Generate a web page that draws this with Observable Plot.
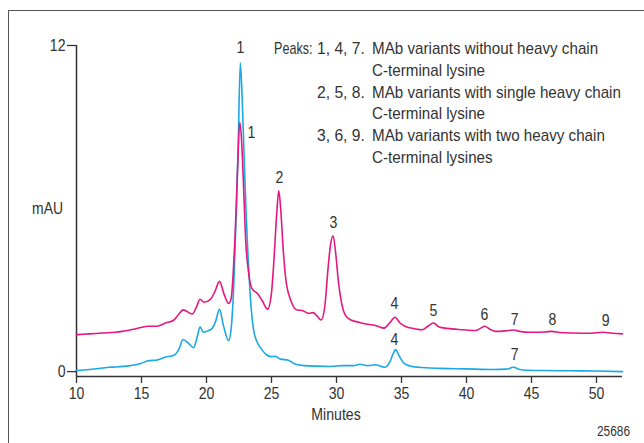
<!DOCTYPE html>
<html>
<head>
<meta charset="utf-8">
<script src="https://cdn.jsdelivr.net/npm/d3@7"></script>
<script src="https://cdn.jsdelivr.net/npm/@observablehq/plot@0.6"></script>
<style>
  html, body { margin: 0; padding: 0; background: #fff; }
  #wrap { position: relative; width: 644px; height: 443px; overflow: hidden;
          font-family: "Liberation Sans", Arial, sans-serif; color: #333; }
  #wrap svg { position: absolute; left: 0; top: 0; }
  .ov { position: absolute; white-space: nowrap; font-size: 17px; line-height: 20px; }
  #frameTop { position: absolute; left: 8px; top: 10px; width: 640px; height: 0; border-top: 1.4px solid #555; }
  #frameLeft { position: absolute; left: 7.5px; top: 10px; width: 0; height: 440px; border-left: 1.4px solid #555; }
</style>
</head>
<body>
<div id="wrap">
  <div id="frameTop"></div>
  <div id="frameLeft"></div>
</div>
<script>
// ---- data ----
const blueT = [10, 11, 12, 12.5, 13, 14, 15, 15.5, 16.2, 16.8, 17.5, 17.9, 18.2, 18.6, 19.0, 19.3, 19.5, 19.75, 20.0, 20.4, 20.7, 21.0, 21.3, 21.7, 21.9, 22.1, 22.3, 22.45, 22.6, 22.75, 22.9, 23.05, 23.2, 23.35, 23.6, 23.9, 24.2, 24.6, 25.0, 25.3, 25.7, 26.3, 26.8, 27.5, 28.5, 29.5, 30.5, 31.3, 31.8, 32.4, 33.0, 33.7, 34.1, 34.35, 34.55, 34.8, 35.2, 35.7, 36.3, 38, 40, 42, 43.1, 43.6, 44.1, 44.6, 46, 48, 50, 52];
const blueV = [0.04, 0.08, 0.13, 0.16, 0.17, 0.21, 0.31, 0.40, 0.43, 0.53, 0.60, 0.85, 1.18, 1.05, 0.88, 1.30, 1.65, 1.45, 1.48, 1.57, 1.85, 2.29, 1.70, 1.14, 1.60, 3.2, 6.0, 8.6, 11.36, 10.0, 7.8, 5.8, 4.2, 2.9, 1.6, 1.08, 0.85, 0.62, 0.55, 0.56, 0.46, 0.42, 0.28, 0.22, 0.20, 0.19, 0.22, 0.22, 0.27, 0.22, 0.25, 0.16, 0.35, 0.65, 0.81, 0.60, 0.30, 0.20, 0.16, 0.12, 0.10, 0.08, 0.09, 0.16, 0.08, 0.05, 0.04, 0.03, 0.02, 0.00];

const pinkT = [10, 11, 12, 13, 13.5, 14.5, 15.5, 16.2, 16.8, 17.5, 17.85, 18.2, 18.9, 19.25, 19.5, 19.8, 20.3, 20.65, 21.0, 21.35, 21.7, 21.9, 22.05, 22.2, 22.38, 22.56, 22.7, 22.82, 23.02, 23.25, 23.5, 23.95, 24.3, 24.7, 25.0, 25.2, 25.4, 25.56, 25.72, 25.9, 26.1, 26.5, 26.97, 27.36, 27.87, 28.2, 28.5, 28.82, 29.1, 29.35, 29.55, 29.74, 29.95, 30.15, 30.4, 30.7, 31.1, 31.7, 32.4, 33.0, 33.67, 34.1, 34.5, 34.9, 35.3, 36.0, 36.6, 37.0, 37.46, 37.9, 38.5, 39.7, 40.7, 41.1, 41.4, 41.8, 42.25, 43.0, 43.6, 44.2, 44.8, 46.0, 46.56, 47.2, 48.2, 49.4, 50.5, 51.2, 52];
const pinkV = [1.36, 1.39, 1.42, 1.45, 1.48, 1.57, 1.67, 1.67, 1.78, 1.90, 2.10, 2.27, 2.12, 2.40, 2.66, 2.55, 2.66, 2.95, 3.32, 2.85, 2.51, 2.70, 3.59, 5.0, 7.3, 9.17, 8.5, 7.2, 4.8, 3.6, 3.05, 2.86, 2.60, 2.30, 2.9, 4.2, 5.8, 6.65, 5.9, 4.5, 3.4, 2.6, 2.27, 2.25, 2.14, 2.17, 2.05, 1.90, 2.4, 3.8, 4.7, 5.0, 4.3, 3.3, 2.5, 2.06, 1.90, 1.82, 1.74, 1.70, 1.60, 1.80, 2.00, 1.78, 1.66, 1.58, 1.54, 1.66, 1.79, 1.64, 1.59, 1.54, 1.51, 1.60, 1.67, 1.56, 1.48, 1.50, 1.53, 1.47, 1.45, 1.46, 1.48, 1.44, 1.42, 1.41, 1.45, 1.41, 1.39];

const peakLabel  = ["1", "1", "2", "3", "4", "5", "6", "7", "8", "9", "4", "7"];
const peakLabelT = [22.6, 23.46, 25.6, 29.77, 34.46, 37.46, 41.38, 43.7, 46.6, 50.7, 34.46, 43.7];
const peakLabelY = [11.91, 8.79, 7.13, 5.48, 2.5, 2.24, 2.1, 1.91, 1.91, 1.88, 1.18, 0.63];

const xTicks = [10, 15, 20, 25, 30, 35, 40, 45, 50];
const yTicks = [0, 12];
const xDomain = [10, 52];
const yDomain = [-0.18, 12];

const legendKeys  = ["Peaks:", "", "", "", "", ""];
const legendNums  = ["1, 4, 7.", "", "2, 5, 8.", "", "3, 6, 9.", ""];
const legendTexts = ["MAb variants without heavy chain", "C-terminal lysine",
                     "MAb variants with single heavy chain", "C-terminal lysine",
                     "MAb variants with two heavy chain", "C-terminal lysines"];

// ---- build ----
const blue = blueT.map((t, i) => ({t, v: blueV[i]}));
const pink = pinkT.map((t, i) => ({t, v: pinkV[i]}));
const labels = peakLabel.map((s, i) => ({s, t: peakLabelT[i], v: peakLabelY[i]}));

const FONT = '"Liberation Sans", Arial, sans-serif';
const BLUE = "#1aa9e4";
const PINK = "#e4187f";
const INK = "#333";
const SQUEEZE = 0.83;

const chart = Plot.plot({
  width: 644,
  height: 443,
  marginLeft: 76,
  marginRight: 22,
  marginTop: 45,
  marginBottom: 67,
  style: {fontFamily: FONT, fontSize: "17px", color: INK, background: "transparent", overflow: "visible"},
  x: {domain: xDomain},
  y: {domain: yDomain},
  marks: [
    Plot.axisX({ticks: xTicks, tickSize: 7, tickPadding: 3, label: null, stroke: INK, strokeWidth: 1.3, fontSize: 17, fill: INK}),
    Plot.axisY({ticks: yTicks, tickSize: 9, tickPadding: 2, label: null, stroke: INK, strokeWidth: 1.3, fontSize: 17, fill: INK}),
    Plot.ruleX([xDomain[0]], {stroke: INK, strokeWidth: 1.5}),
    Plot.ruleY([yDomain[0]], {stroke: INK, strokeWidth: 1.5}),
    Plot.line(blue, {x: "t", y: "v", stroke: BLUE, strokeWidth: 1.6, curve: "monotone-x"}),
    Plot.line(pink, {x: "t", y: "v", stroke: PINK, strokeWidth: 1.6, curve: "monotone-x"}),
    Plot.text(labels, {x: "t", y: "v", text: "s", fontSize: 17, fill: INK, lineAnchor: "middle", textAnchor: "middle"})
  ]
});
const wrap = document.getElementById("wrap");
wrap.appendChild(chart);

// condense SVG text horizontally (reference uses a condensed face)
chart.querySelectorAll("text").forEach(t => {
  const b = t.getBBox();
  let anchor = t.getAttribute("text-anchor");
  let el = t;
  while (!anchor && el.parentElement && el.parentElement !== chart.parentElement) {
    el = el.parentElement;
    anchor = el.getAttribute && el.getAttribute("text-anchor");
  }
  const p = anchor === "end" ? b.x + b.width : anchor === "middle" ? b.x + b.width / 2 : b.x;
  const prev = t.getAttribute("transform") || "";
  t.setAttribute("transform", `${prev} translate(${p},0) scale(${SQUEEZE},1) translate(${-p},0)`);
});

function ov(text, left, top, opts = {}) {
  const d = document.createElement("div");
  d.className = "ov";
  d.textContent = text;
  d.style.left = left + "px";
  d.style.top = top + "px";
  const k = opts.k || 0.9;
  d.style.transform = `scaleX(${k})`;
  d.style.transformOrigin = opts.origin || "left";
  if (opts.style) Object.assign(d.style, opts.style);
  wrap.appendChild(d);
  return d;
}
// legend block
const rowTop0 = 39, rowStep = 21.8;
legendTexts.forEach((txt, i) => {
  const top = rowTop0 + i * rowStep;
  if (legendKeys[i]) ov(legendKeys[i], 274, top, {k: 0.74});
  if (legendNums[i]) ov(legendNums[i], 317, top, {k: 0.92});
  ov(txt, 372, top, {k: 0.893});
});
// axis titles & figure number
ov("mAU", 0, 199, {k: 0.82, origin: "right", style: {width: "63px", textAlign: "right"}});
ov("Minutes", 286, 405, {k: 0.83, origin: "center", style: {width: "100px", textAlign: "center"}});
ov("25686", 530, 421, {k: 0.85, origin: "right", style: {width: "100px", textAlign: "right", fontSize: "14px"}});
</script>
</body>
</html>
